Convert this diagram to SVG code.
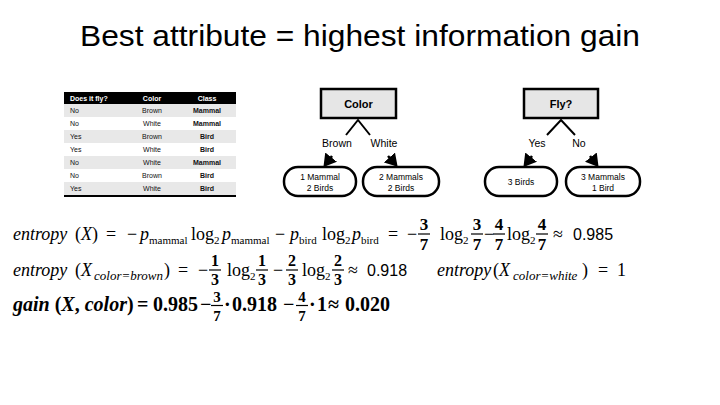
<svg xmlns="http://www.w3.org/2000/svg" width="720" height="405" viewBox="0 0 720 405">
<defs>
<marker id="ah" markerWidth="6" markerHeight="6" refX="4" refY="3" orient="auto" markerUnits="strokeWidth">
<path d="M0,0 L5,3 L0,6 Z" fill="#000"/>
</marker>
<style>
.sans{font-family:"Liberation Sans",Arial,sans-serif}
.ser{font-family:"Liberation Serif","Times New Roman",serif}
.m{font-family:"Liberation Serif","Times New Roman",serif;font-size:18px}
.i{font-style:italic}
.sub{font-size:11px}
.sub13{font-size:13px;font-style:italic}
.fr{font-family:"Liberation Serif",serif;font-size:17px;font-weight:bold;text-anchor:middle}
.fr2{font-family:"Liberation Serif",serif;font-size:16px;font-weight:bold;text-anchor:middle}
.fr3{font-family:"Liberation Serif",serif;font-size:15px;font-weight:bold;text-anchor:middle}
.num{font-family:"Liberation Sans",Arial,sans-serif;font-size:16px}
.th{font-family:"Liberation Sans",Arial,sans-serif;font-size:7px;fill:#fff;font-weight:bold}
.td{font-family:"Liberation Sans",Arial,sans-serif;font-size:7px;fill:#111}
.tdb{font-family:"Liberation Sans",Arial,sans-serif;font-size:7px;fill:#111;font-weight:bold;text-anchor:middle}
.c{text-anchor:middle}
.box{fill:#e6e6e6;stroke:#000;stroke-width:2.5}
.leaf{fill:#fff;stroke:#000;stroke-width:2.5}
.bt{font-family:"Liberation Sans",Arial,sans-serif;font-size:11px;font-weight:bold;text-anchor:middle}
.lt{font-family:"Liberation Sans",Arial,sans-serif;font-size:8.5px;text-anchor:middle}
.el{font-family:"Liberation Sans",Arial,sans-serif;font-size:10.5px;text-anchor:middle}
.ln{stroke:#000;stroke-width:2;fill:none}
.ar{stroke:#000;stroke-width:2.5;fill:none;marker-end:url(#ah)}
.bar{stroke:#000;stroke-width:1.2}
.g{font-family:"Liberation Serif","Times New Roman",serif;font-size:20px;font-weight:bold}
</style>
</defs>
<rect width="720" height="405" fill="#fff"/>
<text x="80" y="46" class="sans" font-size="29" textLength="560" lengthAdjust="spacingAndGlyphs">Best attribute = highest information gain</text>

<g id="table">
<rect x="64" y="92" width="172" height="12" fill="#000"/>
<text x="70" y="100.5" class="th">Does it fly?</text>
<text x="152" y="100.5" class="th c">Color</text>
<text x="207" y="100.5" class="th c">Class</text>
<rect x="64" y="104" width="172" height="13" fill="#e8e8e8"/>
<rect x="64" y="130" width="172" height="13" fill="#e8e8e8"/>
<rect x="64" y="156" width="172" height="13" fill="#e8e8e8"/>
<rect x="64" y="182" width="172" height="13" fill="#e8e8e8"/>
<rect x="64" y="195" width="172" height="2" fill="#000"/>
<text x="70" y="113" class="td">No</text><text x="152" y="113" class="td c">Brown</text><text x="207" y="113" class="tdb">Mammal</text>
<text x="70" y="126" class="td">No</text><text x="152" y="126" class="td c">White</text><text x="207" y="126" class="tdb">Mammal</text>
<text x="70" y="139" class="td">Yes</text><text x="152" y="139" class="td c">Brown</text><text x="207" y="139" class="tdb">Bird</text>
<text x="70" y="152" class="td">Yes</text><text x="152" y="152" class="td c">White</text><text x="207" y="152" class="tdb">Bird</text>
<text x="70" y="165" class="td">No</text><text x="152" y="165" class="td c">White</text><text x="207" y="165" class="tdb">Mammal</text>
<text x="70" y="178" class="td">No</text><text x="152" y="178" class="td c">Brown</text><text x="207" y="178" class="tdb">Bird</text>
<text x="70" y="191" class="td">Yes</text><text x="152" y="191" class="td c">White</text><text x="207" y="191" class="tdb">Bird</text>
</g>

<g id="connectors">
<path class="ln" d="M346,135 L358,120 L370,135"/>
<path class="ln" d="M547,135 L561,120 L575,135"/>
<line class="ar" x1="332" y1="156" x2="325" y2="165"/>
<line class="ar" x1="388" y1="156" x2="396" y2="165"/>
<line class="ar" x1="532" y1="156" x2="525" y2="165"/>
<line class="ar" x1="590" y1="156" x2="597" y2="165"/>
<text x="337" y="147" class="el">Brown</text>
<text x="384" y="147" class="el">White</text>
<text x="537" y="147" class="el">Yes</text>
<text x="579" y="147" class="el">No</text>
</g>

<g id="node-color">
<rect class="box" x="321" y="89" width="75" height="29"/>
<text x="358.5" y="108" class="bt">Color</text>
</g>
<g id="node-brown">
<rect class="leaf" x="284" y="167" width="72" height="29" rx="14"/>
<text x="320" y="180" class="lt">1 Mammal</text>
<text x="320" y="191" class="lt">2 Birds</text>
</g>
<g id="node-white">
<rect class="leaf" x="363" y="167" width="76" height="29" rx="14"/>
<text x="401" y="180" class="lt">2 Mammals</text>
<text x="401" y="191" class="lt">2 Birds</text>
</g>
<g id="node-fly">
<rect class="box" x="524" y="89" width="74" height="29"/>
<text x="561" y="108" class="bt">Fly?</text>
</g>
<g id="node-yes">
<rect class="leaf" x="485" y="167" width="72" height="29" rx="14"/>
<text x="521" y="185" class="lt">3 Birds</text>
</g>
<g id="node-no">
<rect class="leaf" x="566" y="167" width="74" height="29" rx="14"/>
<text x="603" y="180" class="lt">3 Mammals</text>
<text x="603" y="191" class="lt">1 Bird</text>
</g>

<g id="eq1">
<text x="13" y="240" class="m i">entropy</text>
<text x="75" y="240" class="m">(<tspan class="i">X</tspan>)</text>
<text x="106" y="240" class="m">=</text>
<text x="127" y="240" class="m">−</text>
<text x="140" y="240" class="m i">p</text>
<text x="149" y="244" class="ser sub">mammal</text>
<text x="191" y="240" class="m">log</text><text x="214" y="244" class="ser sub">2</text>
<text x="222" y="240" class="m i">p</text>
<text x="231" y="244" class="ser sub">mammal</text>
<text x="275" y="240" class="m">−</text>
<text x="290" y="240" class="m i">p</text>
<text x="299" y="244" class="ser sub">bird</text>
<text x="322" y="240" class="m">log</text><text x="345" y="244" class="ser sub">2</text>
<text x="352" y="240" class="m i">p</text>
<text x="361" y="244" class="ser sub">bird</text>
<text x="388" y="240" class="m">=</text>
<text x="407" y="240" class="m">−</text>
<text x="424" y="230" class="fr">3</text><line class="bar" x1="418" y1="234" x2="430" y2="234"/><text x="424" y="250" class="fr">7</text>
<text x="440" y="240" class="m">log</text><text x="463" y="244" class="ser sub">2</text>
<text x="477" y="230" class="fr">3</text><line class="bar" x1="471" y1="234" x2="483" y2="234"/><text x="477" y="250" class="fr">7</text>
<text x="484" y="240" class="m">−</text>
<text x="499" y="230" class="fr">4</text><line class="bar" x1="493" y1="234" x2="505" y2="234"/><text x="499" y="250" class="fr">7</text>
<text x="507" y="240" class="m">log</text><text x="530" y="244" class="ser sub">2</text>
<text x="542" y="230" class="fr">4</text><line class="bar" x1="536" y1="234" x2="548" y2="234"/><text x="542" y="250" class="fr">7</text>
<text x="553" y="240" class="m">≈</text>
<text x="573" y="240" class="num">0.985</text>
</g>

<g id="eq2">
<text x="13" y="276" class="m i">entropy</text>
<text x="75" y="276" class="m">(<tspan class="i">X</tspan></text>
<text x="94" y="280" class="ser sub13">color=brown</text>
<text x="164" y="276" class="m">)</text>
<text x="178" y="276" class="m">=</text>
<text x="198" y="276" class="m">−</text>
<text x="215" y="266" class="fr2">1</text><line class="bar" x1="209" y1="270" x2="221" y2="270"/><text x="215" y="284.5" class="fr2">3</text>
<text x="227" y="276" class="m">log</text><text x="250" y="280" class="ser sub">2</text>
<text x="262" y="266" class="fr2">1</text><line class="bar" x1="256" y1="270" x2="268" y2="270"/><text x="262" y="284.5" class="fr2">3</text>
<text x="273" y="276" class="m">−</text>
<text x="292" y="266" class="fr2">2</text><line class="bar" x1="286" y1="270" x2="298" y2="270"/><text x="292" y="284.5" class="fr2">3</text>
<text x="302" y="276" class="m">log</text><text x="325" y="280" class="ser sub">2</text>
<text x="338" y="266" class="fr2">2</text><line class="bar" x1="332" y1="270" x2="344" y2="270"/><text x="338" y="284.5" class="fr2">3</text>
<text x="348" y="276" class="m">≈</text>
<text x="367" y="276" class="num">0.918</text>
<text x="437" y="276" class="m i">entropy</text>
<text x="493" y="276" class="m">(<tspan class="i">X</tspan></text>
<text x="513" y="280" class="ser sub13">color=white</text>
<text x="582" y="276" class="m">)</text>
<text x="598" y="276" class="m">=</text>
<text x="617" y="276" class="m">1</text>
</g>

<g id="eq3">
<text x="13" y="311" class="g"><tspan font-style="italic">gain</tspan> (<tspan font-style="italic">X</tspan>, <tspan font-style="italic">color</tspan>)</text>
<text x="137" y="311" class="g">=</text>
<text x="153" y="311" class="g" font-size="19">0.985</text>
<text x="200" y="311" class="g">−</text>
<text x="217" y="302" class="fr3">3</text><line class="bar" x1="211" y1="305.5" x2="223" y2="305.5" stroke-width="1.6"/><text x="217" y="321" class="fr3">7</text>
<text x="224" y="311" class="g">·</text>
<text x="232" y="311" class="g" font-size="19">0.918</text>
<text x="283" y="311" class="g">−</text>
<text x="302" y="302" class="fr3">4</text><line class="bar" x1="296" y1="305.5" x2="308" y2="305.5" stroke-width="1.6"/><text x="302" y="321" class="fr3">7</text>
<text x="309" y="311" class="g">·</text>
<text x="317" y="311" class="g" font-size="19">1</text>
<text x="328" y="311" class="g">≈</text>
<text x="345" y="311" class="g">0.020</text>
</g>
</svg>
